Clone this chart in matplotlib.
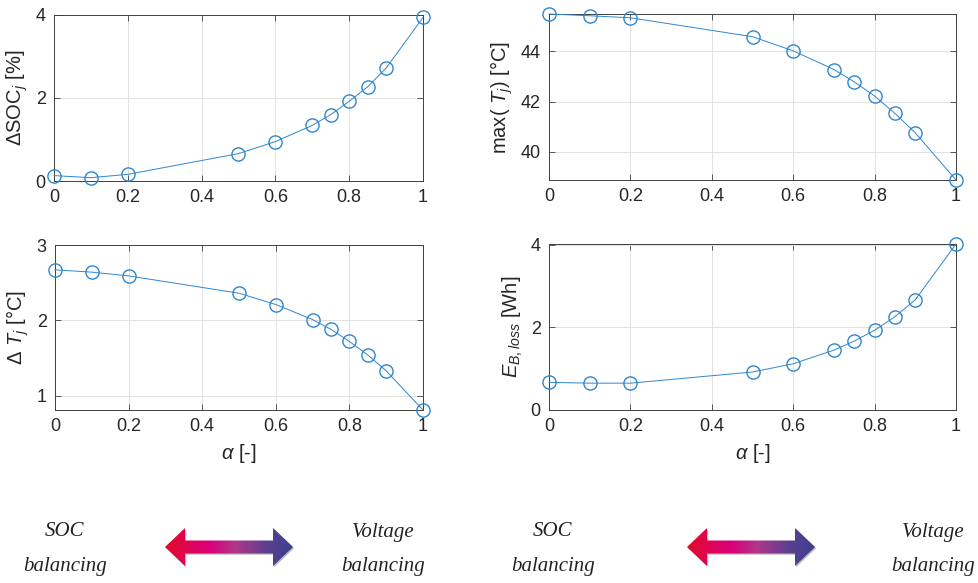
import numpy as np
import matplotlib
matplotlib.use("Agg")
import matplotlib.pyplot as plt
from matplotlib.patches import Polygon
from matplotlib.colors import LinearSegmentedColormap

plt.rcParams['font.family'] = ['Liberation Sans', 'DejaVu Sans']
plt.rcParams['mathtext.fontset'] = 'custom'
plt.rcParams['mathtext.rm'] = 'Liberation Sans'
plt.rcParams['mathtext.it'] = 'Liberation Sans:italic'
plt.rcParams['mathtext.bf'] = 'Liberation Sans:bold'

# ---- data ----
alpha = [0, 0.1, 0.2, 0.5, 0.6, 0.7, 0.75, 0.8, 0.85, 0.9, 1.0]
dsoc = [0.13, 0.08, 0.16, 0.66, 0.95, 1.34, 1.60, 1.92, 2.27, 2.72, 3.94]
maxT = [45.47, 45.40, 45.32, 44.57, 44.01, 43.27, 42.78, 42.22, 41.53, 40.76, 38.89]
dT = [2.67, 2.64, 2.59, 2.36, 2.21, 2.01, 1.88, 1.72, 1.54, 1.33, 0.81]
eloss = [0.67, 0.65, 0.65, 0.92, 1.12, 1.45, 1.67, 1.93, 2.26, 2.67, 4.02]

xticks = [0, 0.2, 0.4, 0.6, 0.8, 1]
xticklabels = ['0', '0.2', '0.4', '0.6', '0.8', '1']

W, H = 979, 583
fig = plt.figure(figsize=(W / 100, H / 100), dpi=100)

def ax_at(l, r, t, b):
    return fig.add_axes([l / W, 1 - b / H, (r - l) / W, (b - t) / H])

blue = '#2f86cf'
txt = '#262626'

panels = [
    (54, 423, 15, 181, dsoc, (0, 4), [0, 2, 4], r'$\Delta$SOC$_{j}$ [%]', False),
    (549, 956, 14, 180, maxT, (38.89, 45.47), [40, 42, 44], r'max( $T_{j}$) [°C]', False),
    (55, 423, 245, 410, dT, (0.81, 3), [1, 2, 3], r'$\Delta$ $T_{j}$ [°C]', True),
    (549, 956, 244, 410, eloss, (0, 4.02), [0, 2, 4], r'$E_{B,loss}$ [Wh]', True),
]

for l, r, t, b, y, ylim, yt, ylab, showx in panels:
    ax = ax_at(l, r, t, b)
    ax.plot(alpha, y, '-o', color=blue, lw=0.7, ms=9.5, mfc='none', mew=1.0,
            clip_on=False, zorder=3)
    ax.set_xlim(0, 1)
    ax.set_ylim(*ylim)
    ax.set_xticks(xticks)
    ax.set_xticklabels(xticklabels)
    ax.set_yticks(yt)
    ax.grid(True, color='#e2e2e2', lw=0.7)
    ax.set_axisbelow(True)
    ax.tick_params(direction='in', length=4, width=0.6, colors='#404040',
                   labelcolor=txt, labelsize=13, top=True, right=True, pad=6)
    for s in ax.spines.values():
        s.set_color('#404040')
        s.set_linewidth(0.7)
    ax.set_ylabel(ylab, fontsize=14.5, color=txt, labelpad=4)
    if showx:
        ax.set_xlabel(r'$\alpha$ [-]', fontsize=14.5, color=txt, labelpad=5)

# ---- bottom annotation ----
ov = fig.add_axes([0, 0, 1, 1])
ov.set_xlim(0, W)
ov.set_ylim(H, 0)
ov.axis('off')

cmap = LinearSegmentedColormap.from_list(
    'bal', [(0, '#e30a2a'), (0.35, '#d9007a'), (0.55, '#b0378a'),
            (0.8, '#5b3f90'), (1, '#3b3f8f')])

def grad_arrow(x0, x1, yc):
    Hh, h, L = 19, 6.5, 20
    pts = [(x0, yc), (x0 + L, yc - Hh), (x0 + L, yc - h), (x1 - L, yc - h),
           (x1 - L, yc - Hh), (x1, yc), (x1 - L, yc + Hh), (x1 - L, yc + h),
           (x0 + L, yc + h), (x0 + L, yc + Hh)]
    shadow = Polygon([(px + 1.2, py + 1.2) for px, py in pts], closed=True,
                     fc='#bbbbbb', ec='none', zorder=1)
    ov.add_patch(shadow)
    poly = Polygon(pts, closed=True, fc='none', ec='none', zorder=2)
    ov.add_patch(poly)
    grad = np.linspace(0, 1, 256).reshape(1, -1)
    im = ov.imshow(grad, cmap=cmap, aspect='auto',
                   extent=(x0, x1, yc + Hh, yc - Hh), zorder=2)
    im.set_clip_path(poly)
    ov.set_xlim(0, W)
    ov.set_ylim(H, 0)

serif = dict(family=['Liberation Serif', 'DejaVu Serif'], style='italic',
             fontsize=15, color='#222222', ha='center', va='center')
for socx, volx, a0, a1 in [(65, 383, 165, 293), (553, 933, 687, 815)]:
    ov.text(socx, 532, 'SOC', **serif)
    ov.text(socx, 567, 'balancing', **serif)
    ov.text(volx, 532, 'Voltage', **serif)
    ov.text(volx, 567, 'balancing', **serif)
    grad_arrow(a0, a1, 547)

fig.savefig('out.png', dpi=100)
